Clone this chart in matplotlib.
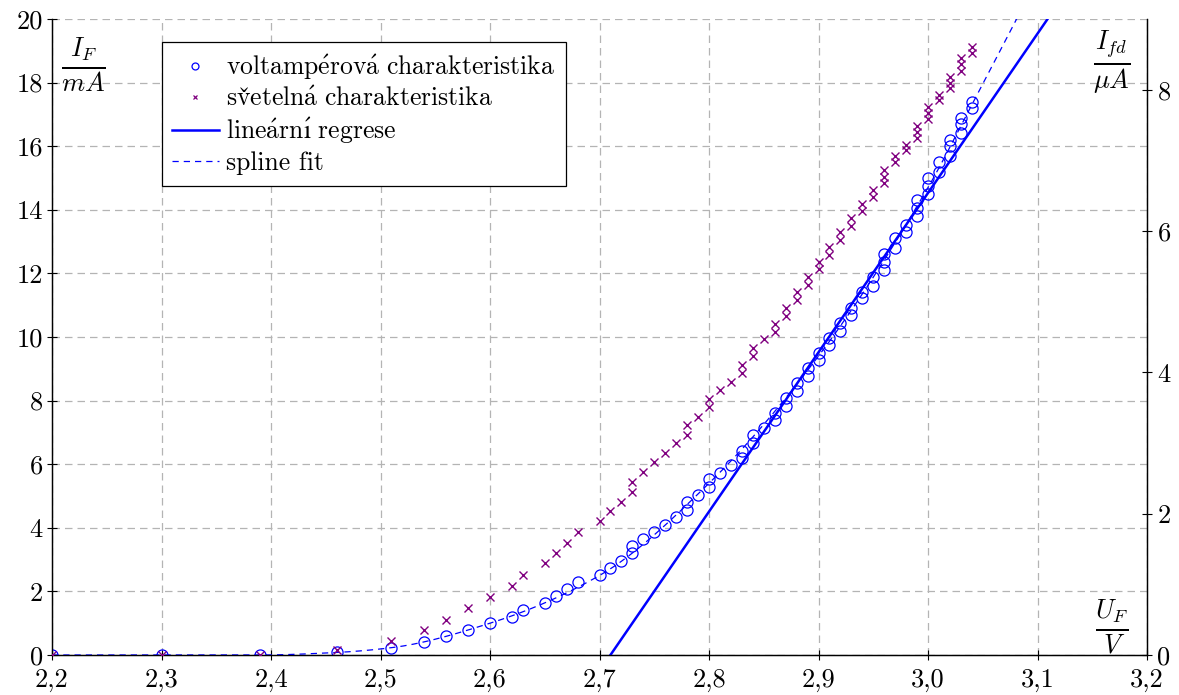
import numpy as np
import matplotlib
matplotlib.use("Agg")
import matplotlib.pyplot as plt
from matplotlib.ticker import FuncFormatter
from matplotlib.lines import Line2D

plt.rcParams['font.family'] = ['cmr10', 'DejaVu Serif']
plt.rcParams['mathtext.fontset'] = 'cm'
plt.rcParams['axes.unicode_minus'] = False
plt.rcParams['axes.formatter.use_mathtext'] = True
plt.rcParams['font.size'] = 19

# --- data ---
U = [2.20, 2.30, 2.39, 2.46, 2.51, 2.54, 2.56, 2.58, 2.60, 2.62, 2.63, 2.65, 2.66, 2.67, 2.68,
     2.70, 2.71, 2.72, 2.73, 2.73, 2.74, 2.75, 2.76, 2.77, 2.78, 2.78, 2.79, 2.80, 2.80, 2.81,
     2.82, 2.83, 2.83, 2.84, 2.84, 2.85, 2.86, 2.86, 2.87, 2.87, 2.88, 2.88, 2.89, 2.89, 2.90,
     2.90, 2.91, 2.91, 2.92, 2.92, 2.93, 2.93, 2.94, 2.94, 2.95, 2.95, 2.96, 2.96, 2.96, 2.97,
     2.97, 2.98, 2.98, 2.99, 2.99, 2.99, 3.00, 3.00, 3.00, 3.01, 3.01, 3.02, 3.02, 3.02, 3.03,
     3.03, 3.03, 3.04, 3.04]
I_F = [0, 0, 0, 0.08, 0.23, 0.41, 0.60, 0.80, 1.00, 1.20, 1.41, 1.63, 1.85, 2.07, 2.29,
       2.51, 2.73, 2.95, 3.20, 3.43, 3.65, 3.87, 4.09, 4.33, 4.56, 4.80, 5.03, 5.28, 5.52, 5.73,
       5.97, 6.20, 6.43, 6.67, 6.91, 7.13, 7.39, 7.62, 7.84, 8.07, 8.30, 8.54, 8.77, 9.02, 9.27,
       9.50, 9.74, 9.97, 10.20, 10.44, 10.70, 10.90, 11.23, 11.40, 11.60, 11.90, 12.10, 12.35, 12.60, 12.80,
       13.10, 13.30, 13.52, 13.80, 14.05, 14.32, 14.50, 14.75, 15.00, 15.20, 15.50, 15.70, 16.00, 16.20, 16.40,
       16.70, 16.90, 17.20, 17.40]
I_fd = [0, 0, 0, 0.07, 0.20, 0.35, 0.50, 0.66, 0.82, 0.98, 1.13, 1.30, 1.45, 1.59, 1.74,
        1.89, 2.04, 2.17, 2.31, 2.45, 2.59, 2.73, 2.86, 3.00, 3.12, 3.25, 3.37, 3.51, 3.62, 3.75,
        3.87, 3.99, 4.11, 4.23, 4.35, 4.47, 4.57, 4.69, 4.80, 4.91, 5.02, 5.13, 5.24, 5.35, 5.46,
        5.56, 5.66, 5.78, 5.87, 5.98, 6.07, 6.18, 6.29, 6.38, 6.48, 6.58, 6.68, 6.76, 6.86, 6.97,
        7.06, 7.14, 7.22, 7.31, 7.40, 7.49, 7.58, 7.67, 7.75, 7.85, 7.92, 8.02, 8.10, 8.18, 8.27,
        8.37, 8.45, 8.52, 8.60]

# linear regression: I = slope * (U - U0)
reg_slope = 50.1
reg_U0 = 2.710

# spline fit knots
spline_U = [2.20, 2.39, 2.46, 2.51, 2.60, 2.70, 2.80, 2.90, 3.00, 3.04, 3.09]
spline_I = [0.0, 0.0, 0.08, 0.23, 1.00, 2.50, 5.40, 9.40, 14.70, 17.30, 20.60]

x_ticks = [2.2, 2.3, 2.4, 2.5, 2.6, 2.7, 2.8, 2.9, 3.0, 3.1, 3.2]
y_ticks = [0, 2, 4, 6, 8, 10, 12, 14, 16, 18, 20]
y2_ticks = [0, 2, 4, 6, 8]

# legend labels: voltampérová charakteristika / světelná charakteristika /
# lineární regrese / spline fit  (accents via mathtext so they use Computer Modern)
labels = [r'$\mathrm{voltamp\acute{e}rov\acute{a}\ charakteristika}$',
          r'$\mathrm{sv\check{e}teln\acute{a}\ charakteristika}$',
          r'$\mathrm{line\acute{a}rn\acute{ı}\ regrese}$',
          'spline fit']


def pchip(xk, yk, x):
    xk = np.asarray(xk, float); yk = np.asarray(yk, float)
    h = np.diff(xk); d = np.diff(yk) / h
    n = len(xk)
    m = np.zeros(n)
    for k in range(1, n - 1):
        if d[k - 1] * d[k] <= 0:
            m[k] = 0
        else:
            w1 = 2 * h[k] + h[k - 1]; w2 = h[k] + 2 * h[k - 1]
            m[k] = (w1 + w2) / (w1 / d[k - 1] + w2 / d[k])
    m[0] = 0.0
    m[-1] = d[-1]
    idx = np.clip(np.searchsorted(xk, x) - 1, 0, n - 2)
    t = (x - xk[idx]) / h[idx]
    h00 = 2 * t**3 - 3 * t**2 + 1
    h10 = t**3 - 2 * t**2 + t
    h01 = -2 * t**3 + 3 * t**2
    h11 = t**3 - t**2
    return h00 * yk[idx] + h10 * h[idx] * m[idx] + h01 * yk[idx + 1] + h11 * h[idx] * m[idx + 1]


fig = plt.figure(figsize=(11.79, 6.95), dpi=100)
ax = fig.add_axes([52 / 1179, 40 / 695, 1095 / 1179, 636 / 695])
ax2 = ax.twinx()

blue = '#0000ff'
purple = '#800080'

# spline
xs = np.linspace(spline_U[0], spline_U[-1], 400)
ys = pchip(spline_U, spline_I, xs)
ax.plot(xs, ys, color=blue, lw=0.9, ls=(0, (5, 4)), zorder=3)

# linear regression
xr = np.array([reg_U0, 3.2])
ax.plot(xr, reg_slope * (xr - reg_U0), color=blue, lw=1.8, zorder=4)

# circles
ax.plot(U, I_F, ls='none', marker='o', ms=8, mfc='none', mec=blue, mew=0.9, zorder=5)

# crosses on right axis
ax2.plot(U, I_fd, ls='none', marker='x', ms=5.5, mec=purple, mew=1.0, zorder=5)

ax.set_xlim(2.2, 3.2)
ax.set_ylim(0, 20)
ax2.set_ylim(0, 9)
ax.set_xticks(x_ticks)
ax.set_yticks(y_ticks)
ax2.set_yticks(y2_ticks)
ax.xaxis.set_major_formatter(FuncFormatter(lambda v, p: f'{v:.1f}'.replace('.', ',')))
ax.yaxis.set_major_formatter(FuncFormatter(lambda v, p: f'{v:g}'))
ax2.yaxis.set_major_formatter(FuncFormatter(lambda v, p: f'{v:g}'))

ax.grid(True, color='#b4b4b4', ls=(0, (6, 4)), lw=0.9)
ax.set_axisbelow(True)
ax.tick_params(direction='inout', length=7, width=0.8, labelsize=19, pad=3)
ax.tick_params(axis='x', pad=6)
ax2.tick_params(direction='inout', length=7, width=0.8, labelsize=19, pad=4)
for a in (ax, ax2):
    a.spines['top'].set_visible(False)
for sp in list(ax.spines.values()) + list(ax2.spines.values()):
    sp.set_linewidth(0.9)
    sp.set_color('black')

ax.text((83 - 52) / 1095, (655 - 65) / 636, r'$\frac{I_F}{mA}$', transform=ax.transAxes,
        ha='center', va='center', fontsize=27)
ax.text((1112 - 52) / 1095, (655 - 62) / 636, r'$\frac{I_{fd}}{\mu A}$', transform=ax.transAxes,
        ha='center', va='center', fontsize=27)
ax.text((1112 - 52) / 1095, (655 - 627) / 636, r'$\frac{U_F}{V}$', transform=ax.transAxes,
        ha='center', va='center', fontsize=27)

handles = [
    Line2D([], [], ls='none', marker='o', ms=5, mfc='none', mec=blue, mew=0.9),
    Line2D([], [], ls='none', marker='x', ms=3.5, mec=purple, mew=0.9),
    Line2D([], [], color=blue, lw=1.8),
    Line2D([], [], color=blue, lw=0.9, ls=(0, (5, 4))),
]
leg = ax2.legend(handles, labels, loc='upper left', bbox_to_anchor=(0.1005, 0.9638),
                 borderaxespad=0, fancybox=False, edgecolor='black', framealpha=1,
                 handlelength=1.8, handletextpad=0.3, labelspacing=0.2, fontsize=18.5,
                 borderpad=0.4)
leg.get_frame().set_linewidth(0.9)

fig.savefig('out.png', dpi=100)
